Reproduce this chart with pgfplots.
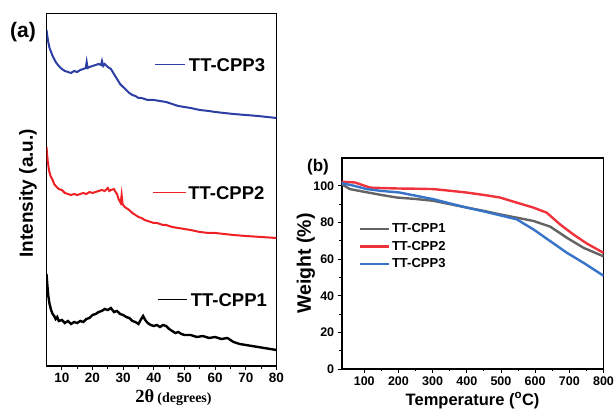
\documentclass[border=0pt]{standalone}
\usepackage{pgfplots}
\pgfplotsset{compat=1.18}
\usepackage{fontspec}
\setmainfont{Liberation Sans}
\newfontfamily\serif{Liberation Serif}

\definecolor{xblue}{RGB}{45,62,165}
\definecolor{xred}{RGB}{238,32,36}
\definecolor{tgray}{RGB}{100,100,100}
\definecolor{tred}{RGB}{240,50,60}
\definecolor{tblue}{RGB}{55,115,200}

\begin{document}
\begin{tikzpicture}
\useasboundingbox (0,0) rectangle (614pt,410pt);

% (a) XRD, offsets as drawn
\begin{axis}[
    at={(46.5pt,44pt)}, anchor=south west,
    scale only axis, width=230pt, height=352.5pt,
    xmin=5, xmax=80, ymin=0, ymax=352.5,
    ytick=\empty,
    xtick={10,20,...,80}, minor x tick num=1,
    xtick pos=bottom, tick align=outside,
    major tick length=4pt, minor tick length=2.5pt,
    every tick/.style={black, line width=0.9pt},
    axis line style={line width=1.6pt},
    /pgf/number format/assume math mode=true,
    ticklabel style={font=\fontsize{13.5}{15}\selectfont\bfseries},
    xlabel={\serif\bfseries\fontsize{18.5}{22}\selectfont 2θ\,\fontsize{14}{16}\selectfont(degrees)},
    xlabel style={at={(axis description cs:0.5,0)}, anchor=center, yshift=-32pt, xshift=12pt},
    ylabel={\fontsize{19}{22}\selectfont\bfseries Intensity (a.u.)},
    ylabel style={at={(axis description cs:-0.0804,0.49)}, anchor=center},
]
% TT-CPP1
\addplot[black, line width=2.4pt] coordinates {
(5,92) (5.3,80) (5.6,70) (6,62) (6.5,56) (7,52) (7.5,50) (8,47) (8.5,49) (9,45)
(10,46) (11,43) (12,45) (13,42) (14,44) (15,43) (16,45) (17,44) (18,47) (19,48)
(20,51) (21,52) (22,54) (23,55) (24,57) (25,56) (26,58) (27,54) (28,55) (29,52)
(30,51) (31,49) (32,48) (33,45) (34,44) (35,42) (35.7,46) (36.5,50) (37.2,46) (38,43)
(39,41) (40,40) (41,41) (42,39) (43,41) (44,40) (45,37) (46,35) (47,33) (48,34)
(49,32) (50,31) (52,31) (54,29) (56,30) (58,28) (60,29) (62,27) (64,28) (65,26)
(66,24) (67,23) (68,22) (70,21) (72,20) (74,19) (76,18) (78,17) (80,16)
};
% TT-CPP2
\addplot[xred, line width=2pt] coordinates {
(5,219) (5.4,205) (5.8,196) (6.3,190) (7,186) (7.5,182) (8,180) (9,177) (10,176) (11,173)
(12,172) (13,171) (14,172) (15,171) (16,172) (17,173) (18,172) (19,174) (20,173) (21,174)
(22,175) (23,176) (24,175) (25,178) (25.5,175) (26,176) (27,177) (27.5,174) (28,172) (28.5,167)
(29.2,163) (29.5,171) (29.8,162) (30.5,159) (31,158) (32,156) (33,153) (34,151) (35,149) (36,148)
(37,146) (38,145) (39,144) (40,143) (41,143) (42,142) (43,141) (44,141) (45,140) (46,139)
(48,138) (50,137) (52,136) (55,134) (58,133) (60,133) (63,132) (66,131) (70,130) (75,129) (80,128)
};
% TT-CPP3
\addplot[xblue, line width=2pt] coordinates {
(5,336) (5.5,325) (6,318) (7,310) (8,304) (9,300) (10,297) (11,295) (12,294) (13,293)
(14,295) (15,294) (16,296) (17,297) (17.8,298) (18.1,304) (18.4,298) (19,299) (20,300) (21,301)
(22,302) (22.8,301) (23.1,305) (23.5,300) (24,302) (25,299) (26,297) (27,292) (28,287) (29,282)
(30,279) (31,276) (32,273) (33,271) (34,270) (35,268) (36,268) (37,267) (38,266) (39,266)
(40,266) (42,265) (44,264) (46,262) (48,260) (50,259) (52,258) (55,256) (58,255) (60,254)
(63,253) (66,252) (70,251) (74,250) (77,249) (80,248)
};
\draw[xblue, line width=1pt] (axis cs:40.3,301) -- (axis cs:50.2,301);
\node[anchor=west, inner sep=0pt, font=\fontsize{18.5}{20}\selectfont\bfseries] at (axis cs:51.4,301) {TT-CPP3};
\draw[xred, line width=1pt] (axis cs:39.7,173) -- (axis cs:50.5,173);
\node[anchor=west, inner sep=0pt, font=\fontsize{18.5}{20}\selectfont\bfseries] at (axis cs:51.2,173) {TT-CPP2};
\draw[black, line width=1pt] (axis cs:41.2,66) -- (axis cs:50.9,66);
\node[anchor=west, inner sep=0pt, font=\fontsize{18.5}{20}\selectfont\bfseries] at (axis cs:52,66) {TT-CPP1};
\end{axis}

% (b) TGA
\begin{axis}[
    at={(341.7pt,41pt)}, anchor=south west,
    scale only axis, width=261.8pt, height=210.7pt,
    xmin=34, xmax=800, ymin=0, ymax=115,
    xtick={100,200,...,800}, ytick={0,20,...,100},
    minor x tick num=1, minor y tick num=1,
    tick pos=left, tick align=outside,
    major tick length=4pt, minor tick length=2.5pt,
    every tick/.style={black, line width=0.9pt},
    axis line style={line width=1.6pt},
    /pgf/number format/assume math mode=true,
    ticklabel style={font=\fontsize{12.5}{14}\selectfont\bfseries},
    xlabel={\fontsize{16.5}{19}\selectfont\bfseries Temperature (\textsuperscript{o}C)},
    xlabel style={at={(axis description cs:0.5,0)}, anchor=center, yshift=-31.7pt},
    ylabel={\fontsize{19.5}{22}\selectfont\bfseries Weight (\%)},
    ylabel style={at={(axis description cs:-0.1364,0.5)}, anchor=center},
    legend style={at={(axis cs:83,80.5)}, anchor=north west, draw=none, fill=none,
        font=\fontsize{13}{15}\selectfont\bfseries, inner sep=0pt,
        row sep=3pt},
    legend cell align=left,
    legend image code/.code={\draw[#1, line width=2.4pt] (0pt,0pt) -- (29pt,0pt);},
]
\addplot[tgray, line width=2.4pt] coordinates {
(34,100.9) (58,98.2) (100,96.7) (150,95) (195,93.6) (250,92.8) (302,91.8) (350,90)
(400,88.1) (450,86.3) (497,84.4) (546,82.6) (595,80.8) (644,77.7) (693,71.6) (742,66.1) (800,61.5)
};
\addplot[tred, line width=2.4pt] coordinates {
(34,102.2) (73,101.8) (117,99) (160,98.7) (204,98.5) (250,98.4) (302,98.2) (350,97.3)
(400,96.3) (450,95) (497,93.6) (546,90.8) (595,88.1) (634,85.3) (673,78.9) (712,73.4) (751,68.5) (800,63.4)
};
\addplot[tblue, line width=2.4pt] coordinates {
(34,101.5) (70,100) (107,98.2) (150,97.2) (204,96.3) (250,94.6) (302,92.7) (350,90.4)
(400,88.1) (450,86) (497,83.9) (546,81.7) (595,76.2) (644,69.8) (693,63.4) (742,57.9) (800,50.9)
};
\legend{TT-CPP1, TT-CPP2, TT-CPP3}
\end{axis}

\node[font=\fontsize{21}{24}\selectfont\bfseries] at (23pt,378pt) {(a)};
\node[font=\fontsize{17}{20}\selectfont\bfseries] at (318pt,243pt) {(b)};
\end{tikzpicture}
\end{document}
